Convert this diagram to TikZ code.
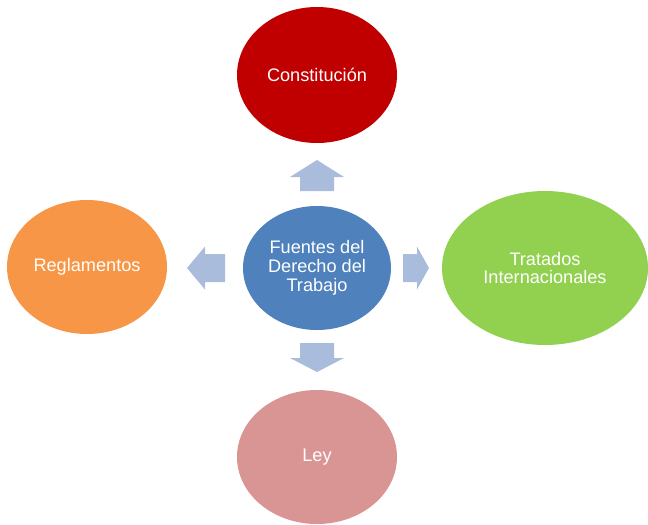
\documentclass[tikz,border=0pt]{standalone}
\usepackage{fontspec}
\setmainfont{Liberation Sans}
\usetikzlibrary{shapes.geometric}

\definecolor{rojo}{HTML}{C00000}
\definecolor{azul}{HTML}{4F81BD}
\definecolor{verde}{HTML}{92D050}
\definecolor{naranja}{HTML}{F79646}
\definecolor{rosa}{HTML}{D99594}
\definecolor{flecha}{HTML}{A9BCDC}

% block arrow: tail x, tail y, angle, length, head length, shaft half width, head half width
\newcommand{\bloque}[7]{%
  \fill[flecha, shift={(#1,#2)}, rotate=#3]
    (0,-#6) -- ({#4-#5},-#6) -- ({#4-#5},-#7) -- (#4,0)
    -- ({#4-#5},#7) -- ({#4-#5},#6) -- (0,#6) -- cycle;}

\begin{document}
\begin{tikzpicture}[x=0.03cm, y=-0.03cm,
  fuente/.style={ellipse, inner sep=0pt, text=white, align=center,
    font=\fontsize{15.5}{16}\selectfont}]
\useasboundingbox (0,0) rectangle (648,524);

% center
\node[fuente, fill=azul, minimum width=4.44cm, minimum height=3.72cm] (fuentes) at (317,268)
  {Fuentes del\\Derecho del\\Trabajo};

% sources
\node[fuente, fill=rojo, minimum width=4.8cm, minimum height=4.08cm] (const) at (317,75) {Constitución};
\node[fuente, fill=verde, minimum width=6.18cm, minimum height=4.62cm] (trat) at (545,268)
  {Tratados\\Internacionales};
\node[fuente, fill=naranja, minimum width=4.8cm, minimum height=4.02cm] (regl) at (87,267) {Reglamentos};
\node[fuente, fill=rosa, minimum width=4.8cm, minimum height=4.02cm] (ley) at (317,457) {Ley};

% arrows
\bloque{317}{191}{90}{31}{17}{17}{27}
\bloque{317}{343}{-90}{29}{14}{17}{27}
\bloque{225}{268}{180}{38}{18}{14}{21.5}
\bloque{403}{268}{0}{26}{12}{14}{21.5}
\end{tikzpicture}
\end{document}
